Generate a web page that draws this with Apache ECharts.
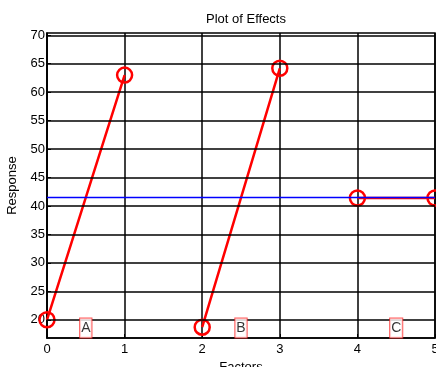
<!DOCTYPE html>
<html><head><meta charset="utf-8">
<script src="https://cdn.jsdelivr.net/npm/echarts@6/dist/echarts.min.js"></script>
<style>html,body{margin:0;padding:0;background:#fff}#c{width:436px;height:367px}</style>
</head><body><div id="c"></div>
<script>
const xTicks = [0, 1, 2, 3, 4, 5];
const yTicks = [20, 25, 30, 35, 40, 45, 50, 55, 60, 65, 70];
const effectX = [0, 1, null, 2, 3, null, 4, 5];
const effectY = [20, 63, null, 18.7, 64.2, null, 41.4, 41.4];
const meanValue = 41.5;
const factorNames = ['A', 'B', 'C'];
const factorX = [0.5, 2.5, 4.5];
const factorY = [18.55, 18.55, 18.55];

const effectData = effectX.map((x, i) => x === null ? '-' : [x, effectY[i]]);
const chart = echarts.init(document.getElementById('c'));
const font = 'Liberation Sans, Arial, sans-serif';
chart.setOption({
  animation: false,
  title: { text: 'Plot of Effects', left: 241, textAlign: 'center', top: 8,
    textStyle: { fontSize: 13, fontWeight: 'normal', color: '#000', fontFamily: font } },
  grid: { left: 47, right: 1, top: 33, bottom: 29, show: true, borderColor: '#000', borderWidth: 1.5,
    outerBoundsMode: 'none', containLabel: false },
  xAxis: {
    type: 'value', min: 0, max: 5, interval: 1,
    name: 'Factors', nameLocation: 'middle', nameGap: 18,
    nameTextStyle: { fontSize: 13, color: '#000', fontFamily: font },
    axisLine: { lineStyle: { color: '#000', width: 1.5 } },
    axisTick: { inside: true, length: 4, lineStyle: { color: '#000' } },
    axisLabel: { fontSize: 13, color: '#000', fontFamily: font, margin: 5, showMaxLabel: true },
    splitLine: { show: true, lineStyle: { color: '#000', width: 1.5 } }
  },
  yAxis: {
    type: 'value', min: 16.8, max: 70.4,
    name: 'Response', nameLocation: 'middle', nameGap: 28,
    nameTextStyle: { fontSize: 13, color: '#000', fontFamily: font },
    axisLine: { show: true, lineStyle: { color: '#000', width: 1.5 } },
    axisTick: { inside: true, length: 4, customValues: yTicks, lineStyle: { color: '#000' } },
    axisLabel: { fontSize: 13, color: '#000', fontFamily: font, margin: 2, customValues: yTicks },
    splitLine: { show: false }
  },
  series: [
    {
      type: 'line', silent: true, data: [], symbol: 'none',
      markLine: { silent: true, symbol: 'none', label: { show: false },
        lineStyle: { color: '#000', width: 1.5, type: 'solid' },
        data: yTicks.map(v => ({ yAxis: v })) },
      z: 1
    },
    {
      type: 'line', data: effectData, connectNulls: false, clip: false,
      symbol: 'circle', symbolSize: 15,
      lineStyle: { color: '#ff0000', width: 2.5 },
      itemStyle: { color: 'rgba(0,0,0,0)', borderColor: '#ff0000', borderWidth: 2.5 },
      z: 3
    },
    {
      type: 'line', data: [[0, meanValue], [5, meanValue]], symbol: 'none', color: '#0000ff',
      lineStyle: { color: '#0000ff', width: 1.5, opacity: 1 }, z: 10
    },
    {
      type: 'scatter', symbolSize: 0, clip: false,
      data: factorX.map((x, i) => [x, factorY[i], factorNames[i]]),
      label: { show: true, position: 'inside', formatter: p => p.data[2],
        fontSize: 14, color: '#000', fontFamily: font,
        backgroundColor: '#fff', borderColor: '#ff3030', borderWidth: 1, padding: [3, 1, 2, 1] },
      z: 11
    }
  ]
});
</script></body></html>
